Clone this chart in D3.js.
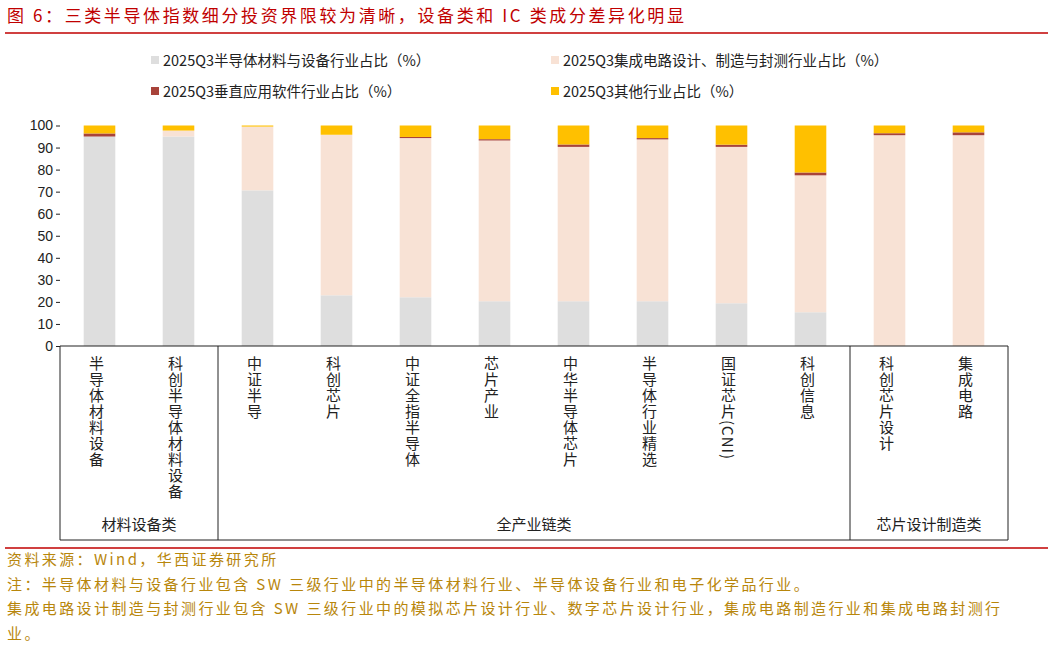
<!DOCTYPE html>
<html><head><meta charset="utf-8">
<script src="https://cdn.jsdelivr.net/npm/d3@7"></script>
<style>body{margin:0;background:#fff;font-family:"Noto Sans CJK SC","Liberation Sans",sans-serif}</style>
</head><body><svg id="c" width="1053" height="646"></svg>
<script>
const categories=["半导体材料设备","科创半导体材料设备","中证半导","科创芯片","中证全指半导体","芯片产业","中华半导体芯片","半导体行业精选","国证芯片(CNI)","科创信息","科创芯片设计","集成电路"];
const seriesNames=["2025Q3半导体材料与设备行业占比（%）","2025Q3集成电路设计、制造与封测行业占比（%）","2025Q3垂直应用软件行业占比（%）","2025Q3其他行业占比（%）"];
const equipment=[95.0,95.0,70.6,23.0,22.1,20.3,20.3,20.3,19.4,15.3,0,0];
const icDesign=[0,2.7,28.9,72.8,72.2,72.9,70.0,73.4,70.9,62.1,95.6,95.6];
const software=[1.4,0,0,0,0.5,0.6,1.1,0.6,1.0,1.3,0.9,1.3];
const other=[3.6,2.3,0.5,4.2,5.2,6.2,8.6,5.7,8.7,21.3,3.5,3.1];
const groups=[{name:"材料设备类",from:0,to:1},{name:"全产业链类",from:2,to:9},{name:"芯片设计制造类",from:10,to:11}];
const yTicks=[0,10,20,30,40,50,60,70,80,90,100];
const colors=["#dedede","#f8e2d5","#a8433a","#ffc000"];
const svg=d3.select("#c");
const red="#c00000";
svg.append("text").attr("x",7).attr("y",22).attr("font-size",17).style("letter-spacing","2.6px").attr("fill",red).text("图 6：三类半导体指数细分投资界限较为清晰，设备类和 IC 类成分差异化明显");
svg.append("line").attr("x1",5).attr("x2",1048).attr("y1",33).attr("y2",33).attr("stroke",red).attr("stroke-width",1.5);
const leg=[[160,61],[560,61],[160,92],[560,92]];
seriesNames.forEach((n,i)=>{const g=svg.append("g").attr("transform",`translate(${leg[i][0]},${leg[i][1]})`);
g.append("rect").attr("x",-9).attr("y",-5).attr("width",8).attr("height",8).attr("fill",colors[i]);
g.append("text").attr("x",3).attr("y",5).attr("font-size",14.5).attr("fill","#222").text(n);});
const x=d3.scaleBand().domain(categories).range([60,1008]).paddingInner(0.6).paddingOuter(0.3);
const y=d3.scaleLinear().domain([0,100]).range([346,125.5]);
const data=categories.map((c,i)=>({c,equipment:equipment[i],icDesign:icDesign[i],software:software[i],other:other[i]}));
const stack=d3.stack().keys(["equipment","icDesign","software","other"])(data);
stack.forEach((s,k)=>svg.append("g").selectAll("rect").data(s).join("rect")
 .attr("x",d=>x(d.data.c)).attr("width",x.bandwidth()).attr("y",d=>y(d[1])).attr("height",d=>y(d[0])-y(d[1])).attr("fill",colors[k]));
const ya=svg.append("g").attr("transform","translate(60,0)").call(d3.axisLeft(y).tickValues(yTicks).tickSize(4).tickSizeOuter(0));
ya.select(".domain").remove();
ya.selectAll("text").attr("font-size",14).attr("font-family","Liberation Sans").attr("fill","#222");
ya.selectAll("line").attr("stroke","#222");
const bot=540;
svg.append("line").attr("x1",60).attr("x2",1008).attr("y1",346).attr("y2",346).attr("stroke","#222").attr("stroke-width",1.2);
const step=x.step();
const bx=[60].concat(groups.map(g=>x(categories[g.to])+x.bandwidth()/2+step/2));
bx[bx.length-1]=1008;
bx.forEach(v=>svg.append("line").attr("x1",v).attr("x2",v).attr("y1",346).attr("y2",bot).attr("stroke","#222"));
svg.append("line").attr("x1",60).attr("x2",1008).attr("y1",bot).attr("y2",bot).attr("stroke","#222");
groups.forEach((g,i)=>svg.append("text").attr("x",(bx[i]+bx[i+1])/2).attr("y",530).attr("text-anchor","middle").attr("font-size",15).attr("fill","#222").text(g.name));
categories.forEach(c=>svg.append("text").attr("x",x(c)+x.bandwidth()/2-3).attr("y",356).attr("font-size",15).attr("fill","#222")
 .style("writing-mode","vertical-rl").style("letter-spacing","1px").text(c));
svg.append("line").attr("x1",5).attr("x2",1048).attr("y1",548).attr("y2",548).attr("stroke",red).attr("stroke-width",1.5);
const notes=["资料来源：Wind，华西证券研究所","注：半导体材料与设备行业包含 SW 三级行业中的半导体材料行业、半导体设备行业和电子化学品行业。","集成电路设计制造与封测行业包含 SW 三级行业中的模拟芯片设计行业、数字芯片设计行业，集成电路制造行业和集成电路封测行","业。"];
notes.forEach((t,i)=>svg.append("text").attr("x",7).attr("y",565+i*24.5).attr("font-size",15).style("letter-spacing","2.4px").attr("fill","#b8860b").text(t));
</script></body></html>
